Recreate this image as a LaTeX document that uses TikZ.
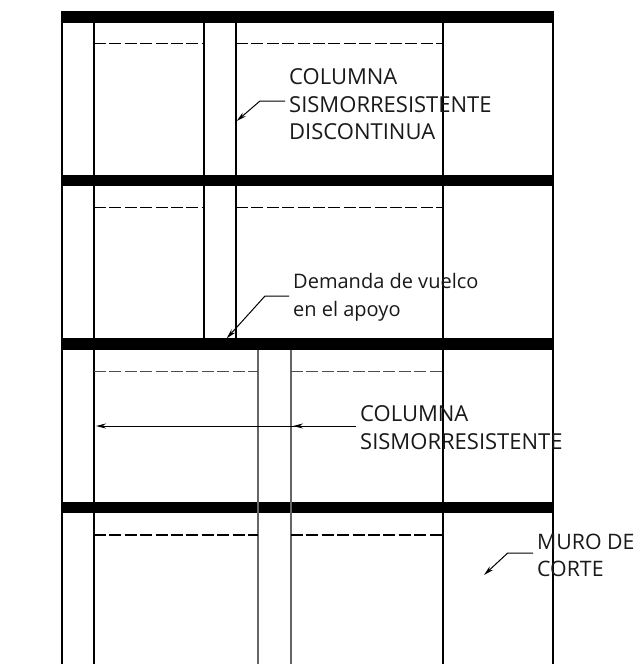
\documentclass[tikz,border=0pt]{standalone}
\usepackage{fontspec}
\setmainfont{Open Sans}
\usetikzlibrary{arrows.meta}
\tikzset{
  beam/.style={fill=black,draw=none},
  wall/.style={line width=1.6pt,black},
  thinwall/.style={line width=1.5pt,black!60},
  dashline/.style={line width=1.2pt,black,dash pattern=on 12pt off 3.4pt},
  lightdash/.style={line width=1pt,black!70,dash pattern=on 12pt off 3.4pt},
  lab/.style={inner xsep=4pt,inner ysep=0pt,align=left,anchor=west,text=black!90,
    font=\fontsize{22}{27.5}\selectfont},
  labsmall/.style={lab,font=\fontsize{20}{28}\selectfont},
  labshort/.style={lab,font=\fontsize{21.3}{27.5}\selectfont},
  leader/.style={line width=1pt,black,-{Stealth[length=10pt,width=5pt]}},
}
\begin{document}
\begin{tikzpicture}[x=1pt,y=-1pt]
\useasboundingbox (0,0) rectangle (637,664);
% beams
\fill[beam] (61,11) rectangle (553,22.5);
\fill[beam] (61,174.8) rectangle (553,186);
\fill[beam] (61,338.4) rectangle (553,350);
\fill[beam] (61,501.8) rectangle (553,513.3);
% full-height verticals
\draw[wall] (62,11) -- (62,664);
\draw[wall] (94,11) -- (94,664);
\draw[wall] (443,11) -- (443,664);
\draw[wall] (553,11) -- (553,664);
% discontinuous column
\draw[wall] (204,22) -- (204,338.4);
\draw[wall] (236,22) -- (236,338.4);
% lower column
\draw[thinwall] (258,350) -- (258,664);
\draw[thinwall] (291,350) -- (291,664);
% dashed lines
\foreach \yy in {43.7,207.3}{
  \draw[dashline] (94,\yy) -- (204,\yy);
  \draw[dashline] (236,\yy) -- (443,\yy);
}
\draw[lightdash] (94,371) -- (258,371);
\draw[lightdash] (291,371) -- (443,371);
\draw[dashline] (94,535) -- (258,535);
\draw[dashline] (291,535) -- (443,535);
% labels
\node[lab] (l1) at (285,104.5) {COLUMNA\\SISMORRESISTENTE\\DISCONTINUA};
\node[labsmall] (l2) at (289,297) {Demanda de vuelco\\en el apoyo};
\node[lab] (l3) at (356,427.5) {COLUMNA\\SISMORRESISTENTE};
\node[labshort] (l4) at (533,555.5) {MURO DE\\CORTE};
% leader targets
\coordinate (e1) at (260,101);
\coordinate (t1) at (236.7,121);
\coordinate (e2) at (265,296);
\coordinate (t2) at (226.7,338.4);
\coordinate (e3) at (296,426);
\coordinate (t3a) at (96,426);
\coordinate (t3b) at (293,426);
\coordinate (e4) at (507.7,553);
\coordinate (t4) at (484,575);
\draw[leader] (l1.west |- e1) -- (e1) -- (t1);
\draw[leader] (l2.west |- e2) -- (e2) -- (t2);
\draw[leader] (l3.west |- e3) -- (t3a);
\draw[leader] (l3.west |- e3) -- (t3b);
\draw[leader] (l4.west |- e4) -- (e4) -- (t4);
\end{tikzpicture}
\end{document}
